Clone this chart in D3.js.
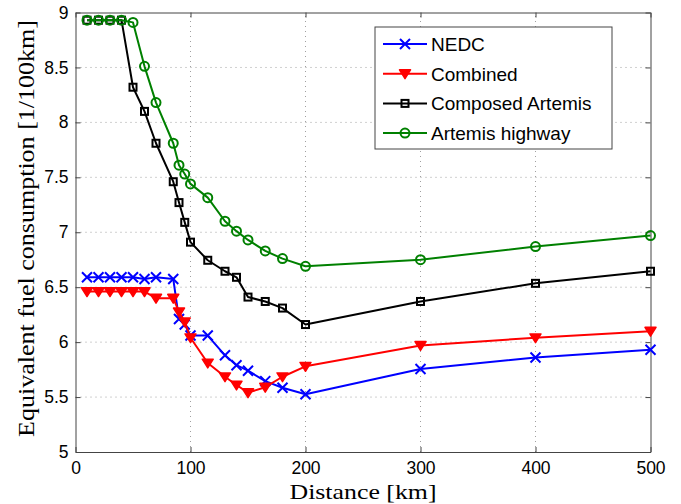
<!DOCTYPE html>
<html>
<head>
<meta charset="utf-8">
<script src="https://cdn.jsdelivr.net/npm/d3@7"></script>
<style>
  body { margin: 0; background: #fff; }
  svg { display: block; }
</style>
</head>
<body>
<svg id="chart" width="681" height="504"></svg>
<script>
// distances [km]
const distances = [10, 20, 30, 40, 50, 60, 70, 85, 90, 95, 100, 115, 130, 140, 150, 165, 180, 200, 300, 400, 500];

const nedc = [6.59, 6.59, 6.59, 6.59, 6.59, 6.575, 6.59, 6.575, 6.21, 6.16, 6.06, 6.06, 5.88, 5.79, 5.74, 5.645, 5.585, 5.525, 5.755, 5.86, 5.93];
const combined = [6.46, 6.46, 6.46, 6.46, 6.46, 6.46, 6.40, 6.40, 6.275, 6.185, 6.04, 5.81, 5.685, 5.61, 5.54, 5.59, 5.685, 5.78, 5.97, 6.04, 6.10];
const composedArtemis = [8.93, 8.93, 8.93, 8.93, 8.32, 8.10, 7.81, 7.46, 7.27, 7.09, 6.91, 6.745, 6.645, 6.59, 6.41, 6.37, 6.31, 6.16, 6.37, 6.535, 6.645];
const artemisHighway = [8.93, 8.93, 8.93, 8.93, 8.91, 8.51, 8.18, 7.81, 7.61, 7.53, 7.44, 7.315, 7.10, 7.01, 6.93, 6.83, 6.76, 6.69, 6.75, 6.87, 6.97];

const xTicks = [0, 100, 200, 300, 400, 500];
const yTicks = [5, 5.5, 6, 6.5, 7, 7.5, 8, 8.5, 9];

const seriesNames = ["NEDC", "Combined", "Composed Artemis", "Artemis highway"];
const seriesColors = ["#0000ff", "#ff0000", "#000000", "#008000"];
const seriesMarkers = ["cross", "triangle", "square", "circle"];

const svg = d3.select("#chart");

const x = d3.scaleLinear().domain([0, 500]).range([75.5, 650.5]);
const y = d3.scaleLinear().domain([5, 9]).range([452, 12.5]);

const tickFont = "'Liberation Sans', Arial, sans-serif";
const labelFont = "'Liberation Serif', 'Times New Roman', serif";

// grid
const grid = svg.append("g").attr("stroke", "#a0a0a0").attr("stroke-width", 1).attr("stroke-dasharray", "1,4");
xTicks.slice(1, -1).forEach(function (t) {
    grid.append("line").attr("x1", x(t)).attr("x2", x(t)).attr("y1", y(5)).attr("y2", y(9));
});
yTicks.slice(1, -1).forEach(function (t) {
    grid.append("line").attr("x1", x(0)).attr("x2", x(500)).attr("y1", y(t)).attr("y2", y(t));
});

// axes with inward ticks
const xAxis = svg.append("g").attr("transform", "translate(0," + y(5) + ")")
    .call(d3.axisBottom(x).tickValues(xTicks).tickSizeInner(-5).tickSizeOuter(0).tickPadding(10));
const xAxisTop = svg.append("g").attr("transform", "translate(0," + y(9) + ")")
    .call(d3.axisTop(x).tickValues(xTicks).tickSizeInner(-5).tickSizeOuter(0).tickFormat(""));
const yAxis = svg.append("g").attr("transform", "translate(" + x(0) + ",0)")
    .call(d3.axisLeft(y).tickValues(yTicks).tickSizeInner(-5).tickSizeOuter(0).tickPadding(7).tickFormat(d3.format("~g")));
const yAxisRight = svg.append("g").attr("transform", "translate(" + x(500) + ",0)")
    .call(d3.axisRight(y).tickValues(yTicks).tickSizeInner(-5).tickSizeOuter(0).tickFormat(""));

[xAxis, xAxisTop, yAxis, yAxisRight].forEach(function (a) {
    a.selectAll("path").attr("stroke", "#444").attr("stroke-width", 1);
    a.selectAll("line").attr("stroke", "#444");
    a.selectAll("text").attr("font-family", tickFont).attr("font-size", 17.5).attr("fill", "#000");
});

// axis labels
svg.append("text").attr("x", 363).attr("y", 499).attr("text-anchor", "middle")
    .attr("font-family", labelFont).attr("font-size", 22)
    .attr("textLength", 147).attr("lengthAdjust", "spacingAndGlyphs").text("Distance [km]");
svg.append("text").attr("transform", "translate(33.5,228.5) rotate(-90)").attr("text-anchor", "middle")
    .attr("font-family", labelFont).attr("font-size", 23)
    .attr("textLength", 417).attr("lengthAdjust", "spacingAndGlyphs").text("Equivalent fuel consumption [1/100km]");

// markers
function drawMarker(g, type, cx, cy, color) {
    if (type === "cross") {
        const s = 5;
        g.append("path").attr("d", "M" + (cx - s) + "," + (cy - s) + "L" + (cx + s) + "," + (cy + s) +
            "M" + (cx - s) + "," + (cy + s) + "L" + (cx + s) + "," + (cy - s))
            .attr("stroke", color).attr("stroke-width", 2).attr("fill", "none");
    } else if (type === "triangle") {
        const s = 5.5;
        g.append("path").attr("d", "M" + (cx - s) + "," + (cy - s * 0.7) + "L" + (cx + s) + "," + (cy - s * 0.7) +
            "L" + cx + "," + (cy + s * 0.9) + "Z")
            .attr("stroke", color).attr("stroke-width", 1.5).attr("fill", color).attr("stroke-linejoin", "round");
    } else if (type === "square") {
        const s = 3.5;
        g.append("rect").attr("x", cx - s).attr("y", cy - s).attr("width", 2 * s).attr("height", 2 * s)
            .attr("stroke", color).attr("stroke-width", 2).attr("fill", "none");
    } else if (type === "circle") {
        g.append("circle").attr("cx", cx).attr("cy", cy).attr("r", 4.5)
            .attr("stroke", color).attr("stroke-width", 2).attr("fill", "none");
    }
}

const allSeries = [nedc, combined, composedArtemis, artemisHighway];
const line = d3.line().x(function (d) { return x(d[0]); }).y(function (d) { return y(d[1]); });

allSeries.forEach(function (values, i) {
    const pts = distances.map(function (d, j) { return [d, values[j]]; });
    const g = svg.append("g");
    g.append("path").datum(pts).attr("d", line).attr("fill", "none")
        .attr("stroke", seriesColors[i]).attr("stroke-width", 2).attr("stroke-linejoin", "round");
    pts.forEach(function (p) {
        drawMarker(g, seriesMarkers[i], x(p[0]), y(p[1]), seriesColors[i]);
    });
});

// legend
const legend = svg.append("g");
legend.append("rect").attr("x", 375).attr("y", 27).attr("width", 237).attr("height", 122)
    .attr("fill", "#fff").attr("stroke", "#444").attr("stroke-width", 1);
seriesNames.forEach(function (name, i) {
    const ly = 44 + i * 29.7;
    legend.append("line").attr("x1", 383).attr("x2", 427).attr("y1", ly).attr("y2", ly)
        .attr("stroke", seriesColors[i]).attr("stroke-width", 2);
    drawMarker(legend, seriesMarkers[i], 405, ly, seriesColors[i]);
    legend.append("text").attr("x", 431).attr("y", ly + 7).attr("font-family", tickFont)
        .attr("font-size", 19).text(name);
});
</script>
</body>
</html>
